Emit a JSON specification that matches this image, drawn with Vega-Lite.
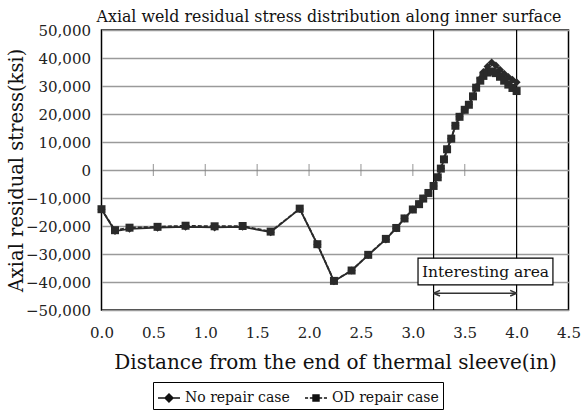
{
  "$schema": "https://vega.github.io/schema/vega-lite/v6.json",
  "width": 467,
  "height": 280,
  "autosize": "none",
  "padding": {"left": 101.5, "top": 30, "right": 18.5, "bottom": 107},
  "background": "white",
  "config": {
    "font": "DejaVu Serif",
    "view": {"stroke": "#000000", "strokeWidth": 1.5},
    "axis": {"labelFont": "DejaVu Serif", "titleFont": "DejaVu Serif", "labelColor": "#222222", "titleColor": "#111111", "titleFontWeight": "normal", "labelOverlap": false}
  },
  "title": {
    "text": "Axial weld residual stress distribution along inner surface",
    "font": "DejaVu Serif",
    "fontSize": 15.8,
    "fontWeight": "normal",
    "color": "#111111",
    "offset": -3,
    "dx": -6
  },
  "resolve": {"scale": {"shape": "independent"}},
  "datasets": {
    "curves": [
      {"series": "No repair case", "x": 0.00, "y": -14000},
      {"series": "No repair case", "x": 0.13, "y": -21800},
      {"series": "No repair case", "x": 0.27, "y": -21000},
      {"series": "No repair case", "x": 0.54, "y": -20600},
      {"series": "No repair case", "x": 0.81, "y": -20300},
      {"series": "No repair case", "x": 1.09, "y": -20500},
      {"series": "No repair case", "x": 1.36, "y": -20300},
      {"series": "No repair case", "x": 1.63, "y": -22200},
      {"series": "No repair case", "x": 1.91, "y": -13900},
      {"series": "No repair case", "x": 2.08, "y": -26600},
      {"series": "No repair case", "x": 2.24, "y": -39700},
      {"series": "No repair case", "x": 2.41, "y": -35900},
      {"series": "No repair case", "x": 2.57, "y": -30400},
      {"series": "No repair case", "x": 2.74, "y": -24800},
      {"series": "No repair case", "x": 2.84, "y": -20800},
      {"series": "No repair case", "x": 2.92, "y": -17300},
      {"series": "No repair case", "x": 3.00, "y": -14100},
      {"series": "No repair case", "x": 3.06, "y": -12200},
      {"series": "No repair case", "x": 3.10, "y": -10200},
      {"series": "No repair case", "x": 3.15, "y": -8200},
      {"series": "No repair case", "x": 3.20, "y": -5700},
      {"series": "No repair case", "x": 3.24, "y": -2600},
      {"series": "No repair case", "x": 3.27, "y": 500},
      {"series": "No repair case", "x": 3.30, "y": 3800},
      {"series": "No repair case", "x": 3.33, "y": 7400},
      {"series": "No repair case", "x": 3.37, "y": 11200},
      {"series": "No repair case", "x": 3.41, "y": 15800},
      {"series": "No repair case", "x": 3.45, "y": 19000},
      {"series": "No repair case", "x": 3.50, "y": 21500},
      {"series": "No repair case", "x": 3.54, "y": 23300},
      {"series": "No repair case", "x": 3.58, "y": 26300},
      {"series": "No repair case", "x": 3.61, "y": 29600},
      {"series": "No repair case", "x": 3.65, "y": 32600},
      {"series": "No repair case", "x": 3.68, "y": 35000},
      {"series": "No repair case", "x": 3.72, "y": 37000},
      {"series": "No repair case", "x": 3.76, "y": 38400},
      {"series": "No repair case", "x": 3.80, "y": 37300},
      {"series": "No repair case", "x": 3.84, "y": 35800},
      {"series": "No repair case", "x": 3.88, "y": 34400},
      {"series": "No repair case", "x": 3.92, "y": 33200},
      {"series": "No repair case", "x": 3.96, "y": 32200},
      {"series": "No repair case", "x": 4.00, "y": 31300},
      {"series": "OD repair case", "x": 0.00, "y": -14000},
      {"series": "OD repair case", "x": 0.13, "y": -21500},
      {"series": "OD repair case", "x": 0.27, "y": -20600},
      {"series": "OD repair case", "x": 0.54, "y": -20300},
      {"series": "OD repair case", "x": 0.81, "y": -19900},
      {"series": "OD repair case", "x": 1.09, "y": -20100},
      {"series": "OD repair case", "x": 1.36, "y": -20000},
      {"series": "OD repair case", "x": 1.63, "y": -22000},
      {"series": "OD repair case", "x": 1.91, "y": -13800},
      {"series": "OD repair case", "x": 2.08, "y": -26500},
      {"series": "OD repair case", "x": 2.24, "y": -39600},
      {"series": "OD repair case", "x": 2.41, "y": -35900},
      {"series": "OD repair case", "x": 2.57, "y": -30300},
      {"series": "OD repair case", "x": 2.74, "y": -24600},
      {"series": "OD repair case", "x": 2.84, "y": -20700},
      {"series": "OD repair case", "x": 2.92, "y": -17300},
      {"series": "OD repair case", "x": 3.00, "y": -14100},
      {"series": "OD repair case", "x": 3.06, "y": -12200},
      {"series": "OD repair case", "x": 3.10, "y": -10200},
      {"series": "OD repair case", "x": 3.15, "y": -8200},
      {"series": "OD repair case", "x": 3.20, "y": -5700},
      {"series": "OD repair case", "x": 3.24, "y": -2600},
      {"series": "OD repair case", "x": 3.27, "y": 500},
      {"series": "OD repair case", "x": 3.30, "y": 3800},
      {"series": "OD repair case", "x": 3.33, "y": 7400},
      {"series": "OD repair case", "x": 3.37, "y": 11200},
      {"series": "OD repair case", "x": 3.41, "y": 15800},
      {"series": "OD repair case", "x": 3.45, "y": 19000},
      {"series": "OD repair case", "x": 3.50, "y": 21500},
      {"series": "OD repair case", "x": 3.54, "y": 23300},
      {"series": "OD repair case", "x": 3.58, "y": 26300},
      {"series": "OD repair case", "x": 3.61, "y": 29400},
      {"series": "OD repair case", "x": 3.65, "y": 31900},
      {"series": "OD repair case", "x": 3.68, "y": 33600},
      {"series": "OD repair case", "x": 3.72, "y": 34800},
      {"series": "OD repair case", "x": 3.76, "y": 35200},
      {"series": "OD repair case", "x": 3.80, "y": 34600},
      {"series": "OD repair case", "x": 3.84, "y": 33300},
      {"series": "OD repair case", "x": 3.88, "y": 31900},
      {"series": "OD repair case", "x": 3.92, "y": 30500},
      {"series": "OD repair case", "x": 3.96, "y": 29300},
      {"series": "OD repair case", "x": 4.00, "y": 28200}
    ],
    "ticks": [
      {"x": 0.5, "y": 0}, {"x": 1.0, "y": 0}, {"x": 1.5, "y": 0}, {"x": 2.0, "y": 0},
      {"x": 2.5, "y": 0}, {"x": 3.0, "y": 0}, {"x": 3.5, "y": 0}, {"x": 4.0, "y": 0}
    ],
    "bounds": [{"x": 3.2, "y": -50000, "y2": 50000}, {"x": 4.0, "y": -50000, "y2": 50000}],
    "box": [{"x": 3.05, "x2": 4.35, "y": -31500, "y2": -41000}],
    "boxlabel": [{"x": 3.70, "y": -36300, "label": "Interesting area"}],
    "arrow": [{"x": 3.2, "x2": 4.0, "y": -44000}],
    "heads": [{"x": 3.2, "y": -44000, "side": "left"}, {"x": 4.0, "y": -44000, "side": "right"}],
    "legendonly": []
  },
  "encoding": {
    "x": {"field": "x", "type": "quantitative", "scale": {"domain": [0, 4.5], "nice": false, "zero": false},
      "axis": {"values": [0, 0.5, 1, 1.5, 2, 2.5, 3, 3.5, 4, 4.5], "format": ".1f", "grid": false, "ticks": false, "domain": false, "labelFontSize": 15, "labelPadding": 15, "labelFlush": false, "title": "Distance from the end of thermal sleeve(in)", "titleFontSize": 20, "titlePadding": 12}},
    "y": {"field": "y", "type": "quantitative", "scale": {"domain": [-50000, 50000], "nice": false, "zero": false},
      "axis": {"values": [-50000, -40000, -30000, -20000, -10000, 0, 10000, 20000, 30000, 40000, 50000], "format": ",d", "grid": true, "gridColor": "#9a9a9a", "gridWidth": 1.5, "gridOpacity": 1, "ticks": false, "domain": false, "labelFontSize": 15, "labelPadding": 11, "labelFlush": false, "title": "Axial residual stress(ksi)", "titleFontSize": 19.5, "titlePadding": -1}}
  },
  "layer": [
    {
      "data": {"name": "ticks"},
      "mark": {"type": "tick", "orient": "vertical", "size": 12, "thickness": 1.2, "color": "#808080"}
    },
    {
      "data": {"name": "bounds"},
      "mark": {"type": "rule", "color": "#000000", "strokeWidth": 1.2},
      "encoding": {"y2": {"field": "y2"}}
    },
    {
      "data": {"name": "curves"},
      "transform": [{"filter": "datum.series === 'No repair case'"}],
      "mark": {"type": "line", "strokeWidth": 1.8, "color": "#2a2a2a"}
    },
    {
      "data": {"name": "curves"},
      "transform": [{"filter": "datum.series === 'OD repair case'"}],
      "mark": {"type": "line", "strokeWidth": 1.8, "color": "#2a2a2a", "strokeDash": [4, 2]}
    },
    {
      "data": {"name": "curves"},
      "mark": {"type": "point", "filled": true, "opacity": 1, "color": "#2a2a2a", "size": 64},
      "encoding": {
        "shape": {"field": "series", "type": "nominal", "scale": {"domain": ["No repair case", "OD repair case"], "range": ["diamond", "square"]}, "legend": null}
      }
    },
    {
      "data": {"name": "legendonly"},
      "mark": {"type": "point", "filled": false, "opacity": 1, "color": "#111111", "strokeWidth": 1.5, "size": 484},
      "encoding": {
        "shape": {"field": "series", "type": "nominal",
          "scale": {"domain": ["No repair case", "OD repair case"], "range": [
            "M-1,0H1M0,-0.36L0.36,0L0,0.36L-0.36,0ZM0,-0.24L0.24,0L0,0.24L-0.24,0ZM0,-0.12L0.12,0L0,0.12L-0.12,0Z",
            "M-1,0H-0.72M-0.56,0H-0.28M0.28,0H0.56M0.72,0H1M-0.27,-0.27H0.27V0.27H-0.27ZM-0.17,-0.17H0.17V0.17H-0.17ZM-0.07,-0.07H0.07V0.07H-0.07Z"]},
          "legend": {
            "title": null,
            "orient": "none",
            "legendX": 51.5,
            "legendY": 352,
            "direction": "horizontal",
            "strokeColor": "#000000",
            "padding": 4,
            "columnPadding": 12,
            "labelFont": "DejaVu Serif",
            "labelFontSize": 14,
            "labelColor": "#111111",
            "labelOffset": 4,
            "symbolSize": 484,
            "symbolStrokeColor": "#111111",
            "symbolStrokeWidth": 1.5,
            "symbolOpacity": 1
          }
        }
      }
    },
    {
      "data": {"name": "box"},
      "mark": {"type": "rect", "fill": "white", "stroke": "#000000", "strokeWidth": 1.2},
      "encoding": {"x2": {"field": "x2"}, "y2": {"field": "y2"}}
    },
    {
      "data": {"name": "boxlabel"},
      "mark": {"type": "text", "font": "DejaVu Serif", "fontSize": 15.5, "color": "#111111", "align": "center", "baseline": "middle"},
      "encoding": {"text": {"field": "label"}}
    },
    {
      "data": {"name": "arrow"},
      "mark": {"type": "rule", "color": "#333333", "strokeWidth": 1.5},
      "encoding": {"x2": {"field": "x2"}}
    },
    {
      "data": {"name": "heads"},
      "transform": [{"filter": "datum.side === 'left'"}],
      "mark": {"type": "point", "shape": "M0,0L1.6,-0.7M0,0L1.6,0.7", "size": 64, "filled": false, "color": "#333333", "strokeWidth": 1.5, "opacity": 1}
    },
    {
      "data": {"name": "heads"},
      "transform": [{"filter": "datum.side === 'right'"}],
      "mark": {"type": "point", "shape": "M0,0L-1.6,-0.7M0,0L-1.6,0.7", "size": 64, "filled": false, "color": "#333333", "strokeWidth": 1.5, "opacity": 1}
    }
  ]
}
